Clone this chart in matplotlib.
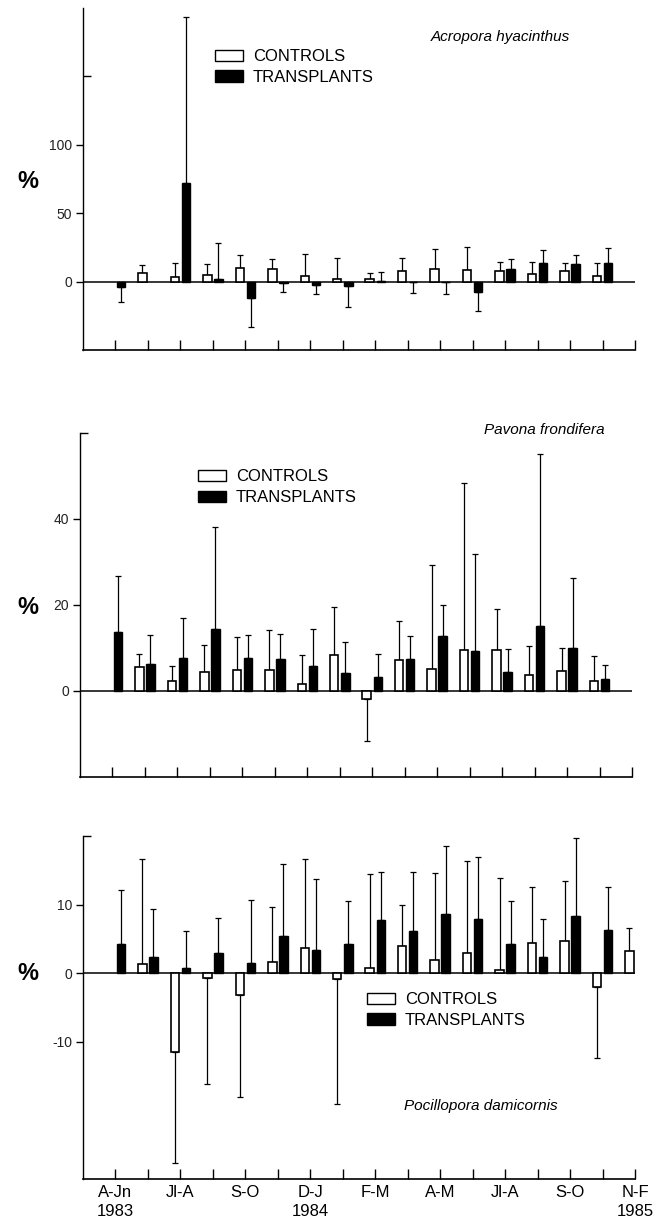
import numpy as np
import matplotlib
matplotlib.use("Agg")
import matplotlib.pyplot as plt
from matplotlib.patches import Patch
from matplotlib.ticker import FixedLocator

plt.rcParams['font.family'] = ['Liberation Sans', 'DejaVu Sans']

# ---------------- data ----------------
periods = list(range(1, 18))
period_labels = ["A-Jn\n1983", "", "Jl-A", "", "S-O", "", "D-J\n1984", "",
                 "F-M", "", "A-M", "", "Jl-A", "", "S-O", "", "N-F\n1985"]

nan = np.nan
# Acropora hyacinthus
acro_ctrl = [nan, 6.3, 3.4, 4.6, 9.7, 9.0, 4.1, 2.2, 2.0, 7.8, 9.5, 8.3, 7.8, 5.8, 7.8, 3.9, nan]
acro_ctrl_err = [nan, 5.6, 9.9, 8.0, 10.0, 7.3, 15.8, 15.3, 4.5, 9.7, 14.0, 16.9, 6.8, 8.8, 6.0, 9.9, nan]
acro_trans = [-3.6, nan, 72.1, 2.2, -11.7, -0.8, -2.4, -3.2, 0.2, -0.5, -0.5, -7.3, 9.5, 13.8, 13.1, 13.8, nan]
acro_trans_err = [11.2, nan, 121.0, 25.7, 21.8, 6.5, 6.8, 15.2, 7.1, 7.5, 8.7, 14.1, 6.8, 9.0, 6.1, 10.5, nan]

# Pavona frondifera
pav_ctrl = [nan, 5.5, 2.3, 4.5, 4.8, 4.8, 1.6, 8.3, -1.9, 7.2, 5.1, 9.6, 9.6, 3.8, 4.6, 2.4, nan]
pav_ctrl_err = [nan, 3.2, 3.6, 6.3, 7.7, 9.5, 6.8, 11.3, 9.7, 9.0, 24.2, 38.7, 9.5, 6.6, 5.5, 5.8, nan]
pav_trans = [13.7, 6.2, 7.6, 14.5, 7.7, 7.4, 5.7, 4.3, 3.2, 7.5, 12.9, 9.3, 4.5, 15.1, 10.0, 2.7, nan]
pav_trans_err = [13.0, 6.8, 9.3, 23.6, 5.3, 5.8, 8.7, 7.0, 5.5, 5.4, 7.2, 22.5, 5.3, 40.1, 16.2, 3.4, nan]

# Pocillopora damicornis
poc_ctrl = [nan, 1.3, -11.5, -0.7, -3.2, 1.7, 3.7, -0.8, 0.7, 3.9, 1.9, 3.0, 0.5, 4.4, 4.7, -2.0, 3.2]
poc_ctrl_err = [nan, 15.3, 16.2, 15.4, 14.8, 8.0, 12.9, 18.3, 13.7, 6.0, 12.7, 13.4, 13.4, 8.2, 8.8, 10.3, 3.4]
poc_trans = [4.2, 2.4, 0.8, 3.0, 1.5, 5.4, 3.4, 4.2, 7.8, 6.2, 8.6, 7.9, 4.2, 2.4, 8.4, 6.3, nan]
poc_trans_err = [8.0, 6.9, 5.3, 5.0, 9.2, 10.5, 10.4, 6.3, 6.9, 8.5, 10.0, 9.0, 6.3, 5.5, 11.3, 6.2, nan]

species = ["Acropora hyacinthus", "Pavona frondifera", "Pocillopora damicornis"]
series_labels = ["CONTROLS", "TRANSPLANTS"]

# ---------------- figure ----------------
W, H = 657, 1223
fig = plt.figure(figsize=(W / 100, H / 100), dpi=100)


def axes_px(left, top, right, bottom):
    return fig.add_axes([left / W, 1 - bottom / H, (right - left) / W, (bottom - top) / H])


ax1 = axes_px(83, 8, 635, 350)
ax2 = axes_px(80, 433, 632, 777)
ax3 = axes_px(83, 836, 635, 1179)

panels = [
    dict(ax=ax1, ctrl=acro_ctrl, cerr=acro_ctrl_err, trans=acro_trans, terr=acro_trans_err,
         ylim=(-50, 200), yticks=[0, 50, 100], minor=[150], name=species[0],
         name_xy=(0.882, 0.915), name_ha='right',
         leg_xy=(0.240, 0.88), pct_y=182),
    dict(ax=ax2, ctrl=pav_ctrl, cerr=pav_ctrl_err, trans=pav_trans, terr=pav_trans_err,
         ylim=(-20, 60), yticks=[0, 20, 40], minor=[60], name=species[1],
         name_xy=(0.951, 1.01), name_ha='right',
         leg_xy=(0.214, 0.895), pct_y=607),
    dict(ax=ax3, ctrl=poc_ctrl, cerr=poc_ctrl_err, trans=poc_trans, terr=poc_trans_err,
         ylim=(-30, 20), yticks=[-10, 0, 10], minor=[20], name=species[2],
         name_xy=(0.72, 0.213), name_ha='center',
         leg_xy=(0.515, 0.545), pct_y=973),
]

x = np.array(periods, dtype=float)
off = 0.17
bw = 0.26

for i, p in enumerate(panels):
    ax = p['ax']
    ctrl = np.array(p['ctrl'], dtype=float)
    cerr = np.array(p['cerr'], dtype=float)
    trans = np.array(p['trans'], dtype=float)
    terr = np.array(p['terr'], dtype=float)

    ax.axhline(0, color='black', lw=1.1, zorder=1)

    ax.bar(x - off, ctrl, width=bw, color='white', edgecolor='black', linewidth=1.2, zorder=3)
    ax.bar(x + off, trans, width=bw, color='black', edgecolor='black', linewidth=1.0, zorder=3)

    for xs, v, e in [(x - off, ctrl, cerr), (x + off, trans, terr)]:
        lower = np.where(v < 0, e, 0.0)
        upper = np.where(v >= 0, e, 0.0)
        ax.errorbar(xs, v, yerr=[lower, upper], fmt='none', ecolor='black',
                    elinewidth=0.9, capsize=2.5, capthick=0.9, zorder=2)

    ax.set_xlim(0, 17)
    ax.set_ylim(*p['ylim'])
    for s in ['top', 'right']:
        ax.spines[s].set_visible(False)
    ax.spines['left'].set_linewidth(1.0)
    ax.spines['bottom'].set_linewidth(1.2)

    ax.set_xticks(periods)
    if i == 2:
        ax.set_xticklabels(period_labels, fontsize=12, linespacing=1.35)
    else:
        ax.set_xticklabels([])
    ax.tick_params(axis='x', direction='in', length=7, width=1.0, pad=4)

    ax.set_yticks(p['yticks'])
    ax.set_yticklabels([str(t) for t in p['yticks']], fontsize=10, color='#222222')
    ax.tick_params(axis='y', direction='out', length=5, width=1.0, pad=3)
    ax.yaxis.set_minor_locator(FixedLocator(p['minor']))
    ax.tick_params(axis='y', which='minor', direction='in', length=6, width=1.0)

    ax.text(p['name_xy'][0], p['name_xy'][1], p['name'], style='italic', fontsize=11,
            ha=p['name_ha'], va='center', transform=ax.transAxes)

    handles = [Patch(facecolor='white', edgecolor='black', linewidth=1.0, label=series_labels[0]),
               Patch(facecolor='black', edgecolor='black', label=series_labels[1])]
    ax.legend(handles=handles, loc='upper left', bbox_to_anchor=p['leg_xy'], frameon=False,
              fontsize=12, handlelength=1.65, handleheight=0.65, handletextpad=0.6,
              labelspacing=0.35, borderpad=0, borderaxespad=0)

    fig.text(28 / W, 1 - p['pct_y'] / H, '%', fontsize=17, fontweight='bold',
             ha='center', va='center')

fig.savefig('out.png', dpi=100)
